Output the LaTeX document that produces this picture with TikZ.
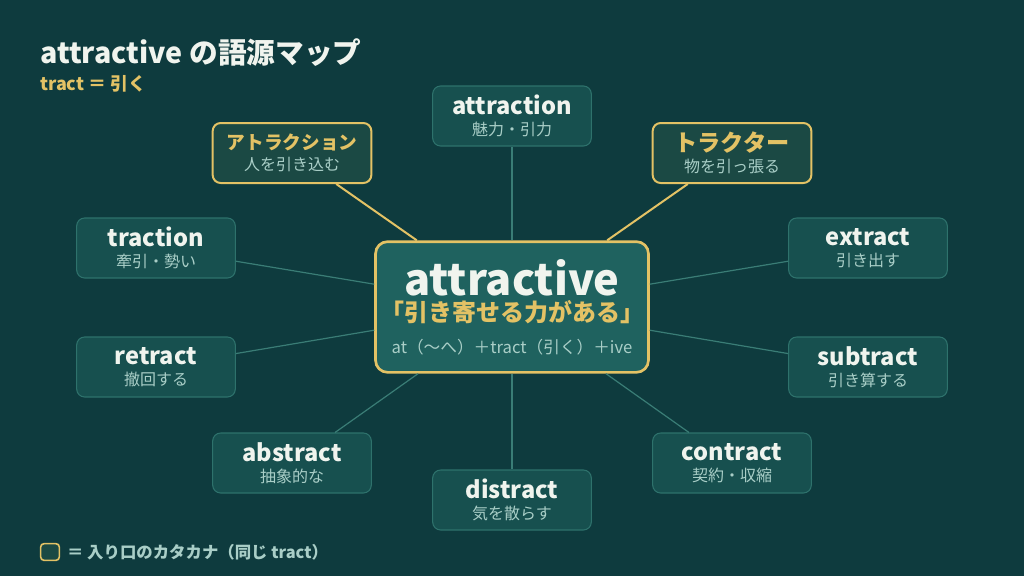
\documentclass[tikz,border=0pt]{standalone}
\usepackage{fontspec}
\setmainfont{Noto Sans CJK JP}
\usetikzlibrary{positioning}
\definecolor{bgteal}{HTML}{0E3B3E}
\definecolor{nodefill}{HTML}{17504F}
\definecolor{nodeline}{HTML}{2E726C}
\definecolor{kanafill}{HTML}{1B4944}
\definecolor{hubfill}{HTML}{1F625F}
\definecolor{gold}{HTML}{E3C265}
\definecolor{titletxt}{HTML}{F0F4EE}
\definecolor{subtxt}{HTML}{A9CEC7}
\definecolor{spokeline}{HTML}{3A7D76}

\begin{document}
\begin{tikzpicture}[x=0.75pt,y=-0.75pt]
\tikzset{
word/.style={
  draw=nodeline,
  fill=nodefill,
  line width=0.8pt,
  rounded corners=6pt,
  minimum width=119pt,
  minimum height=45pt,
  align=center,
  text=titletxt,
  font=\fontsize{12}{16}\selectfont
  },
kana/.style={
  word,
  draw=gold,
  fill=kanafill,
  line width=1.5pt
  },
hub/.style={
  draw=gold,
  fill=hubfill,
  line width=2pt,
  rounded corners=9pt,
  minimum width=204pt,
  minimum height=98pt,
  align=center,
  text=titletxt
  },
spoke/.style={draw=spokeline, line width=0.9pt},
goldspoke/.style={draw=gold, line width=1.5pt}
}

\fill[bgteal] (0,0) rectangle (1024,576);
\useasboundingbox (0,0) rectangle (1024,576);

% heading
\node[anchor=base west, inner sep=0pt, text=titletxt, font=\fontsize{21.5}{22}\selectfont\bfseries]
  (title) at (40,63) {attractive の語源マップ};
\node[anchor=base west, inner sep=0pt, text=gold, font=\fontsize{13.5}{14}\selectfont\bfseries]
  (meaning) at (40,90) {tract ＝ 引く};

% centre word
\node[hub] (attractive) at (512,307)
  {{\fontsize{32.5}{32}\selectfont\bfseries attractive}\\[2pt]
   {\fontsize{18}{24}\selectfont\bfseries\color{gold}「引き寄せる力がある」}\\[10.5pt]
   {\fontsize{12.5}{17}\selectfont\color{subtxt}at（〜へ）＋tract（引く）＋ive}};

% family words
\node[word] (attraction) at (512,116) {{\fontsize{17.7}{17}\selectfont\bfseries attraction}\\{\color{subtxt}魅力・引力}};
\node[word] (traction)   at (156,248) {{\fontsize{17.7}{17}\selectfont\bfseries traction}\\{\color{subtxt}牽引・勢い}};
\node[word] (extract)    at (868,248) {{\fontsize{17.7}{17}\selectfont\bfseries extract}\\{\color{subtxt}引き出す}};
\node[word] (retract)    at (156,367) {{\fontsize{17.7}{17}\selectfont\bfseries retract}\\{\color{subtxt}撤回する}};
\node[word] (subtract)   at (868,367) {{\fontsize{17.7}{17}\selectfont\bfseries subtract}\\{\color{subtxt}引き算する}};
\node[word] (abstract)   at (292,463) {{\fontsize{17.7}{17}\selectfont\bfseries abstract}\\{\color{subtxt}抽象的な}};
\node[word] (contract)   at (732,463) {{\fontsize{17.7}{17}\selectfont\bfseries contract}\\{\color{subtxt}契約・収縮}};
\node[word] (distract)   at (512,500) {{\fontsize{17.7}{17}\selectfont\bfseries distract}\\{\color{subtxt}気を散らす}};

% katakana words
\node[kana] (attrakana)  at (292,153) {{\fontsize{14}{17}\selectfont\bfseries\color{gold}アトラクション}\\{\color{subtxt}人を引き込む}};
\node[kana] (tractor)    at (732,153) {{\fontsize{17.4}{17}\selectfont\bfseries\color{gold}トラクター}\\{\color{subtxt}物を引っ張る}};

% spokes
\foreach \w in {attraction,traction,extract,retract,subtract,abstract,contract,distract}
  \draw[spoke] (attractive) -- (\w);
\draw[goldspoke] (attractive) -- (attrakana);
\draw[goldspoke] (attractive) -- (tractor);

% legend
\node[draw=gold, fill=kanafill, line width=1.2pt, rounded corners=2.5pt,
  minimum width=14pt, minimum height=12.5pt, inner sep=0pt] (legendbox) at (50,552) {};
\node[right=5pt of legendbox, inner sep=0pt, text=subtxt, font=\fontsize{12.3}{12}\selectfont\bfseries]
  (legendtext) {＝ 入り口のカタカナ（同じ tract）};

\end{tikzpicture}
\end{document}
